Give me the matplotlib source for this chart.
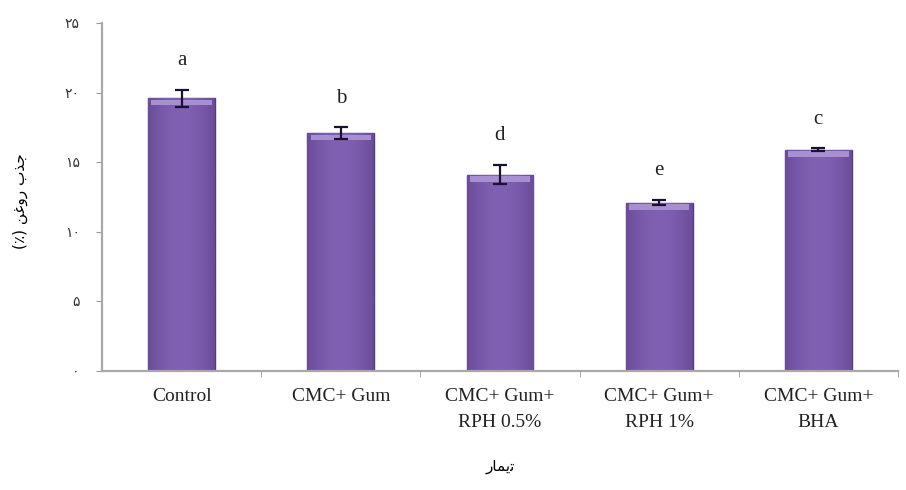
import matplotlib.pyplot as plt
import numpy as np
from matplotlib.patches import Rectangle

# data
categories = ["Control", "CMC+ Gum", "CMC+ Gum+\nRPH 0.5%", "CMC+ Gum+\nRPH 1%", "CMC+ Gum+\nBHA"]
values = [19.6, 17.1, 14.1, 12.1, 15.9]
errors = [0.6, 0.4, 0.7, 0.2, 0.1]
letters = ["a", "b", "d", "e", "c"]
yticks = [0, 5, 10, 15, 20, 25]
ytick_labels = ["\u06f0", "\u06f5", "\u06f1\u06f0", "\u06f1\u06f5", "\u06f2\u06f0", "\u06f2\u06f5"]

# Persian labels in visual order (presentation forms, no shaping in matplotlib)
ylabel = "(\u066a) \uFEE6\uFECF\uFEED\uFEAD \uFE8F\uFEAC\uFE9F"
xlabel = "\uFEAD\uFE8E\uFEE4\uFBFE\uFE97"

fonts = ["Liberation Serif", "DejaVu Sans"]
plt.rcParams["font.family"] = fonts

fig = plt.figure(figsize=(9.06, 4.90), dpi=100)
ax = fig.add_axes([0.1126, 0.243, 0.8784, 0.710])

x = np.arange(len(categories))
width = 0.42
bars = ax.bar(x, values, width=width, color="#7856a6", edgecolor="#55397e",
              linewidth=1.0, zorder=2)

# horizontal shading inside each bar, plus a lighter top bevel
grad = np.linspace(-1, 1, 64)
shade = 1 - 0.55 * grad ** 2
dark = np.array([0x58, 0x3c, 0x82]) / 255
light = np.array([0x80, 0x60, 0xb2]) / 255
img = dark + (light - dark) * shade[:, None]
img = img[None, :, :]
for b in bars:
    x0, w, h = b.get_x(), b.get_width(), b.get_height()
    im = ax.imshow(img, extent=(x0, x0 + w, 0, h), aspect="auto",
                   interpolation="bilinear", zorder=2.5)
    im.set_clip_path(b)
    ax.add_patch(Rectangle((x0 + 0.02, h - 0.5), w - 0.04, 0.38,
                           facecolor="#a790d2", edgecolor="none", zorder=3))

ax.errorbar(x, values, yerr=errors, fmt="none", ecolor="#1a1030",
            elinewidth=1.6, capsize=5, capthick=1.6, zorder=4)

for xi, v, e, lt in zip(x, values, errors, letters):
    ax.text(xi, v + e + 1.4, lt, ha="center", va="bottom", fontsize=15,
            color="#222222")

ax.set_xlim(-0.5, 4.5)
ax.set_ylim(0, 25)
ax.set_yticks(yticks)
ax.set_yticklabels(ytick_labels, fontsize=10, color="#333333")
ax.set_xticks(x)
ax.set_xticklabels(categories, fontsize=14, color="#222222", linespacing=1.7)
ax.set_xticks(np.arange(0.5, 5, 1), minor=True)
ax.tick_params(axis="x", which="major", length=0, pad=12)
ax.tick_params(axis="x", which="minor", length=4, color="#999999")
ax.tick_params(axis="y", length=4, color="#999999", pad=12)

for s in ["top", "right"]:
    ax.spines[s].set_visible(False)
for s in ["left", "bottom"]:
    ax.spines[s].set_color("#a8a8a8")
    ax.spines[s].set_linewidth(1.6)

fig.text(0.552, 0.048, xlabel, ha="center", va="center", fontsize=11,
         family="DejaVu Sans")
fig.text(0.022, 0.59, ylabel, ha="center", va="center", rotation=90,
         fontsize=11, family="DejaVu Sans")

fig.savefig("out.png", dpi=100)
plt.close(fig)
